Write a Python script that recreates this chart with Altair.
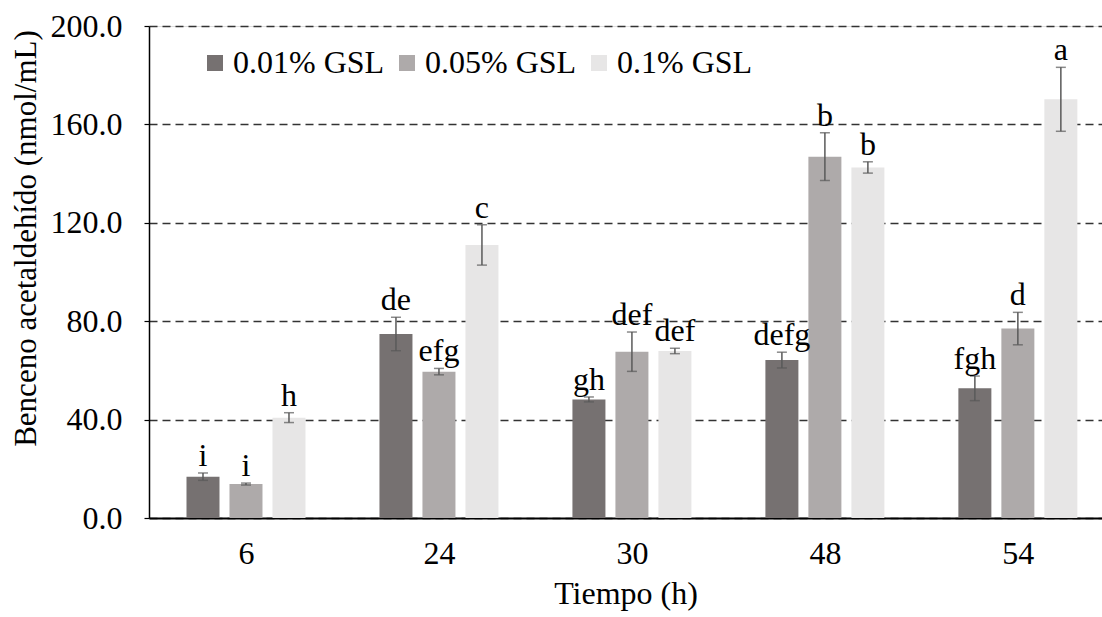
import json
import altair as alt
import pandas as pd

groups = ["6", "24", "30", "48", "54"]
series = ["0.01% GSL", "0.05% GSL", "0.1% GSL"]
colors = ["#767171", "#AEAAAA", "#E7E6E6"]

vals_001 = [16.8, 74.8, 48.2, 64.2, 52.7]
err_001 = [1.5, 6.8, 1.0, 3.2, 5.0]
let_001 = ["i", "de", "gh", "defg", "fgh"]

vals_005 = [13.8, 59.5, 67.6, 146.9, 77.0]
err_005 = [0.4, 1.3, 8.0, 9.7, 6.6]
let_005 = ["i", "efg", "def", "b", "d"]

vals_01 = [40.8, 111.0, 67.9, 142.5, 170.2]
err_01 = [2.0, 8.2, 1.1, 2.3, 13.0]
let_01 = ["h", "c", "def", "b", "a"]

y_ticks = [0, 40, 80, 120, 160, 200]

rows = []
for si, (vals, errs, lets) in enumerate([(vals_001, err_001, let_001),
                                         (vals_005, err_005, let_005),
                                         (vals_01, err_01, let_01)]):
    for gi, g in enumerate(groups):
        rows.append({"group": g, "gi": gi, "series": series[si], "si": si,
                     "value": vals[gi], "err": errs[gi], "letter": lets[gi]})
df = pd.DataFrame(rows)

FONT = "Liberation Serif, Times New Roman, serif"
FS = 32

base = alt.Chart(df).transform_calculate(
    pos="datum.gi + (datum.si - 1) * 0.2228",
    lo="datum.value - datum.err",
    hi="datum.value + datum.err",
)

xscale = alt.Scale(domain=[-0.5026, 4.436], nice=False, zero=False, padding=0)
yscale = alt.Scale(domain=[0, 200], nice=False)

label_expr = json.dumps(groups) + "[datum.value]"

x_enc = alt.X("pos:Q", scale=xscale, title="Tiempo (h)",
              axis=alt.Axis(values=list(range(len(groups))), labelExpr=label_expr,
                            grid=False, ticks=False, domainColor="#000000",
                            domainWidth=2, labelFont=FONT, labelFontSize=FS,
                            labelColor="#000000", labelPadding=20,
                            titleFont=FONT, titleFontSize=FS, titleFontWeight="normal",
                            titleColor="#000000", titlePadding=9))

y_enc = alt.Y("value:Q", scale=yscale, title="Benceno acetaldehído (nmol/mL)",
              axis=alt.Axis(values=y_ticks, format=".1f", grid=True,
                            gridDash=[8, 5], gridColor="#333333", gridWidth=1.3,
                            domainColor="#000000", domainWidth=1.5,
                            tickColor="#000000", tickSize=5, tickWidth=1.2,
                            labelFont=FONT, labelFontSize=FS, labelColor="#000000",
                            labelPadding=22,
                            titleFont=FONT, titleFontSize=31, titleFontWeight="normal",
                            titleColor="#000000", titlePadding=8, titleY=212))

bars = base.mark_bar(size=33).encode(
    x=x_enc,
    y=y_enc,
    color=alt.Color("series:N", scale=alt.Scale(domain=series, range=colors),
                    legend=alt.Legend(title=None, orient="none", legendX=50, legendY=21,
                                      direction="horizontal", symbolType="square",
                                      symbolSize=256, symbolStrokeWidth=0,
                                      labelFont=FONT, labelFontSize=FS,
                                      labelColor="#000000", labelOffset=2,
                                      columnPadding=6, labelLimit=400)),
)

rules = base.mark_rule(color="#595959", strokeWidth=1.5).encode(
    x="pos:Q", y="lo:Q", y2="hi:Q")

cap_lo = base.mark_tick(orient="horizontal", size=10, thickness=1.5, color="#595959").encode(
    x="pos:Q", y="lo:Q")
cap_hi = base.mark_tick(orient="horizontal", size=10, thickness=1.5, color="#595959").encode(
    x="pos:Q", y="hi:Q")

texts = base.mark_text(font=FONT, fontSize=FS, color="#000000", baseline="alphabetic",
                       dy=-7).encode(x="pos:Q", y="hi:Q", text="letter:N")

chart = alt.layer(bars, rules, cap_lo, cap_hi, texts).properties(
    width=953, height=492,
    autosize=alt.AutoSizeParams(type="none"),
    padding={"left": 149, "top": 26, "right": 0, "bottom": 99},
).configure_view(stroke=None).configure(background="#ffffff")

chart.save("out.html", embed_options={"renderer": "svg", "actions": False})
